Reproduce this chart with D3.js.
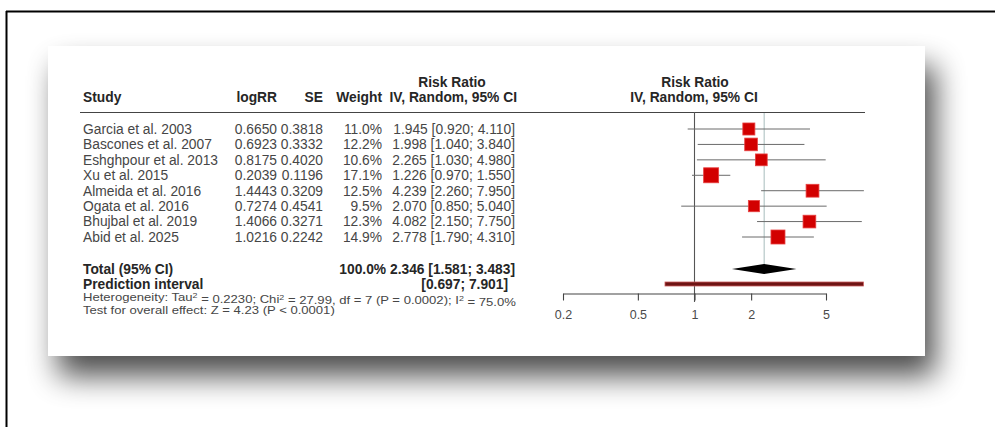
<!DOCTYPE html>
<html>
<head>
<meta charset="utf-8">
<script src="https://cdn.jsdelivr.net/npm/d3@7/dist/d3.min.js"></script>
<style>
  html, body { margin: 0; padding: 0; background: #ffffff; overflow: hidden; }
  svg { display: block; }
  text { font-family: "Liberation Sans", Arial, Helvetica, sans-serif; }
</style>
</head>
<body>
<svg id="chart" width="995" height="427"></svg>
<script>
// ---------------- DATA ----------------
const studies = ["Garcia et al. 2003", "Bascones et al. 2007", "Eshghpour et al. 2013", "Xu et al. 2015",
                 "Almeida et al. 2016", "Ogata et al. 2016", "Bhujbal et al. 2019", "Abid et al. 2025"];
const logRR  = ["0.6650", "0.6923", "0.8175", "0.2039", "1.4443", "0.7274", "1.4066", "1.0216"];
const seVals = ["0.3818", "0.3332", "0.4020", "0.1196", "0.3209", "0.4541", "0.3271", "0.2242"];
const weights = [11.0, 12.2, 10.6, 17.1, 12.5, 9.5, 12.3, 14.9];
const rr     = [1.945, 1.998, 2.265, 1.226, 4.239, 2.070, 4.082, 2.778];
const lower  = [0.920, 1.040, 1.030, 0.970, 2.260, 0.850, 2.150, 1.790];
const upper  = [4.110, 3.840, 4.980, 1.550, 7.950, 5.040, 7.750, 4.310];
const pooled = [2.346, 1.581, 3.483];        // estimate, lower, upper
const predInterval = [0.697, 7.901];
const axisTicks = [0.2, 0.5, 1, 2, 5];
const axisTickLabels = ["0.2", "0.5", "1", "2", "5"];

// ---------------- SETUP ----------------
const svg = d3.select("#chart");
const defs = svg.append("defs");
const f = defs.append("filter").attr("id", "shadow")
  .attr("x", "-15%").attr("y", "-30%").attr("width", "135%").attr("height", "175%");
f.append("feGaussianBlur").attr("in", "SourceAlpha").attr("stdDeviation", 15).attr("result", "b");
f.append("feOffset").attr("in", "b").attr("dx", 10).attr("dy", 20).attr("result", "o");
f.append("feComponentTransfer").attr("in", "o").attr("result", "o2")
  .append("feFuncA").attr("type", "linear").attr("slope", 0.7);
const m = f.append("feMerge");
m.append("feMergeNode").attr("in", "o2");
m.append("feMergeNode").attr("in", "SourceGraphic");

// outer frame (top + left lines)
svg.append("line").attr("x1", 6).attr("x2", 995).attr("y1", 11.5).attr("y2", 11.5)
  .attr("stroke", "#000").attr("stroke-width", 2);
svg.append("line").attr("x1", 6.5).attr("x2", 6.5).attr("y1", 11).attr("y2", 427)
  .attr("stroke", "#000").attr("stroke-width", 2);

// card with shadow
svg.append("rect").attr("x", 48).attr("y", 46).attr("width", 877).attr("height", 310)
  .attr("fill", "#fff").attr("filter", "url(#shadow)");

const g = svg.append("g");

// scales
const x = d3.scaleLog().domain([0.2, 5]).range([563, 826]);
const rowY = d3.scaleLinear().domain([0, 7]).range([129, 237]);
const sq = d3.scaleSqrt().domain([0, d3.max(weights)]).range([0, 15]);

const fs = 13.8;
const txtCol = "#464646";
const hdrCol = "#262626";

function txt(xp, yp, s, opts = {}) {
  return g.append("text").attr("x", xp).attr("y", yp)
    .attr("dy", "0.35em")
    .attr("text-anchor", opts.anchor || "start")
    .attr("font-size", opts.size || fs)
    .attr("font-weight", opts.bold ? "bold" : "normal")
    .attr("fill", opts.color || (opts.bold ? hdrCol : txtCol))
    .text(s);
}

// column anchors
const colStudy = 83, colLog = 277, colSE = 323, colW = 382, colCI = 515;

// headers
txt(452, 82, "Risk Ratio", { anchor: "middle", bold: true });
txt(colStudy, 97, "Study", { bold: true });
txt(colLog, 97, "logRR", { anchor: "end", bold: true });
txt(colSE, 97, "SE", { anchor: "end", bold: true });
txt(colW, 97, "Weight", { anchor: "end", bold: true });
txt(colCI + 2, 97, "IV, Random, 95% CI", { anchor: "end", bold: true });
txt(695, 82, "Risk Ratio", { anchor: "middle", bold: true });
txt(694, 97, "IV, Random, 95% CI", { anchor: "middle", bold: true });

// header rule
g.append("line").attr("x1", 80).attr("x2", 865).attr("y1", 112.5).attr("y2", 112.5)
  .attr("stroke", "#444").attr("stroke-width", 1.2);

// study rows text
const f3 = d3.format(".3f");
studies.forEach((s, i) => {
  const y = rowY(i);
  txt(colStudy, y, s);
  txt(colLog, y, logRR[i], { anchor: "end" });
  txt(colSE, y, seVals[i], { anchor: "end" });
  txt(colW, y, weights[i].toFixed(1) + "%", { anchor: "end" });
  txt(colCI, y, f3(rr[i]) + " [" + f3(lower[i]) + "; " + f3(upper[i]) + "]", { anchor: "end" });
});

// totals
const yTot = 269, yPI = 284, yHet = 297.5, yTest = 310;
txt(colStudy, yTot, "Total (95% CI)", { bold: true });
txt(colCI, yTot, "100.0%  " + f3(pooled[0]) + " [" + f3(pooled[1]) + "; " + f3(pooled[2]) + "]", { anchor: "end", bold: true });
txt(colStudy, yPI, "Prediction interval", { bold: true });
txt(colCI - 7, yPI, "[" + f3(predInterval[0]) + "; " + f3(predInterval[1]) + "]", { anchor: "end", bold: true });

const hs = g.append("g").attr("transform", `translate(${colStudy},0) scale(1.19,1)`);
const het = hs.append("text").attr("x", 0).attr("y", yHet).attr("dy", "0.35em")
  .attr("font-size", 11).attr("fill", txtCol);
het.append("tspan").text("Heterogeneity: Tau");
het.append("tspan").attr("font-size", 7.5).attr("dy", "-0.45em").text("2");
het.append("tspan").attr("dy", "0.45em").text(" = 0.2230; Chi");
het.append("tspan").attr("font-size", 7.5).attr("dy", "-0.45em").text("2");
het.append("tspan").attr("dy", "0.45em").text(" = 27.99, df = 7 (P = 0.0002); I");
het.append("tspan").attr("font-size", 7.5).attr("dy", "-0.45em").text("2");
het.append("tspan").attr("dy", "0.45em").text(" = 75.0%");
hs.append("text").attr("x", 0).attr("y", yTest).attr("dy", "0.35em")
  .attr("font-size", 11).attr("fill", txtCol)
  .text("Test for overall effect: Z = 4.23 (P < 0.0001)");

// ---------------- PLOT ----------------
// reference line at 1
g.append("line").attr("x1", x(1)).attr("x2", x(1)).attr("y1", 112).attr("y2", 302)
  .attr("stroke", "#555").attr("stroke-width", 1.1);
// pooled estimate line
g.append("line").attr("x1", x(pooled[0])).attr("x2", x(pooled[0])).attr("y1", 113).attr("y2", 266)
  .attr("stroke", "#a8bcbc").attr("stroke-width", 1);

// CI lines
g.selectAll("line.ci").data(studies).join("line").attr("class", "ci")
  .attr("x1", (d, i) => x(lower[i])).attr("x2", (d, i) => x(upper[i]))
  .attr("y1", (d, i) => rowY(i)).attr("y2", (d, i) => rowY(i))
  .attr("stroke", "#6a6a6a").attr("stroke-width", 1);

// squares
g.selectAll("rect.sq").data(studies).join("rect").attr("class", "sq")
  .attr("x", (d, i) => x(rr[i]) - sq(weights[i]) / 2)
  .attr("y", (d, i) => rowY(i) - sq(weights[i]) / 2)
  .attr("width", (d, i) => sq(weights[i]))
  .attr("height", (d, i) => sq(weights[i]))
  .attr("fill", "#d20000").attr("stroke", "#e84040").attr("stroke-width", 0.8);

// diamond
const dPts = [[x(pooled[1]), yTot], [x(pooled[0]), yTot - 5], [x(pooled[2]), yTot], [x(pooled[0]), yTot + 5]];
g.append("polygon").attr("points", dPts.map(p => p.join(",")).join(" "))
  .attr("fill", "#000");

// prediction interval bar
g.append("rect").attr("x", x(predInterval[0])).attr("y", yPI - 2)
  .attr("width", x(predInterval[1]) - x(predInterval[0])).attr("height", 4)
  .attr("fill", "#6e1414").attr("stroke", "#c85a5a").attr("stroke-width", 0.8);

// axis
const axis = d3.axisBottom(x).tickValues(axisTicks)
  .tickFormat((d, i) => axisTickLabels[i]).tickSize(7).tickSizeOuter(0);
const ax = g.append("g").attr("transform", "translate(0,293.5)").call(axis);
ax.select(".domain").attr("stroke", "#444").attr("stroke-width", 1.1);
ax.selectAll(".tick line").attr("stroke", "#444").attr("stroke-width", 1.1);
ax.selectAll(".tick text").attr("y", 17).attr("font-size", 12.5)
  .attr("font-family", "Liberation Sans, Arial, sans-serif").attr("fill", "#4a4a4a");
</script>
</body>
</html>
